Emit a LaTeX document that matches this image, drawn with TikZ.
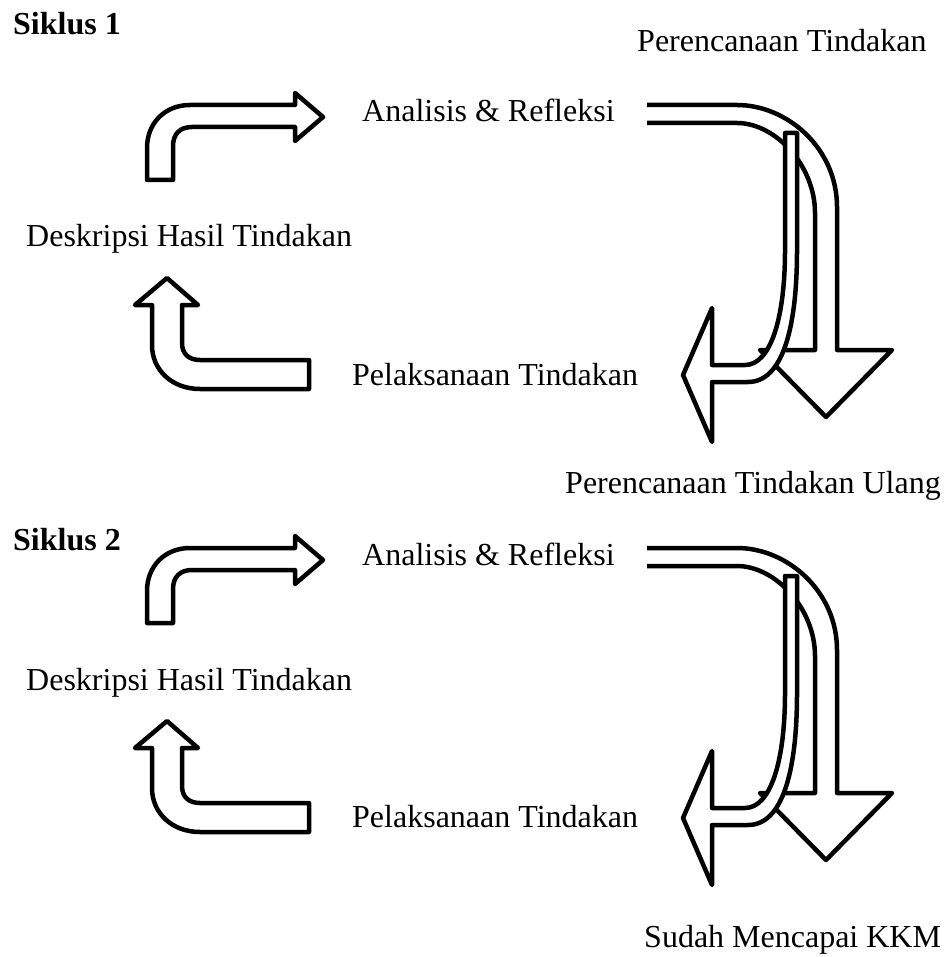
\documentclass[tikz,border=0pt]{standalone}
\usepackage{fontspec}
\setmainfont{Liberation Serif}
\tikzset{
  shp/.style={draw=black, fill=white, line width=4.5pt, line join=round},
  ln/.style={draw=black, line width=4.5pt, line join=round},
  lbl/.style={anchor=base west, inner sep=0pt, font=\fontsize{32}{38}\selectfont},
  blbl/.style={anchor=base west, inner sep=0pt, font=\fontsize{32}{38}\selectfont\bfseries}
}
\newcommand\cyclarrows{%
  % bent arrow up then right
  \path[shp] (147,180) -- (147,148) .. controls (147,123) and (165,105) .. (190,105)
    -- (295,105) -- (295,93) -- (323,117) -- (295,141) -- (295,127) -- (192,127)
    .. controls (180,127) and (173,134) .. (173,146) -- (173,180) -- cycle;
  % bent arrow left then up
  \path[shp] (167,278) -- (198,305) -- (182,305) -- (182,343)
    .. controls (182,354) and (189,360) .. (200,360) -- (309,360) -- (309,389)
    -- (200,389) .. controls (172,389) and (152,370) .. (152,345) -- (152,305)
    -- (135,305) -- cycle;
  % hidden edge behind
  \path[ln] (785,200) -- (785,350) -- (815,350);
  % large curved arrow right then down
  \fill[white] (647,105) -- (737,105) .. controls (787,105) and (837,148) .. (837,207)
    -- (837,350) -- (892,350) -- (826,417) -- (760,350) -- (815,350) -- (815,213)
    .. controls (815,165) and (775,123) .. (737,123) -- (647,123) -- cycle;
  \path[ln] (647,105) -- (737,105) .. controls (787,105) and (837,148) .. (837,207)
    -- (837,350) -- (892,350) -- (826,417) -- (760,350) -- (815,350) -- (815,213)
    .. controls (815,165) and (775,123) .. (737,123) -- (647,123);
  % curved arrow down then left
  \path[shp] (785,133) -- (785,250) .. controls (785,320) and (770,365) .. (745,365)
    -- (712,365) -- (712,308) -- (683,375) -- (712,442) -- (712,382) -- (748,382)
    .. controls (782,382) and (797,330) .. (797,250) -- (797,133) -- cycle;
}
\begin{document}
\begin{tikzpicture}[x=1pt,y=-1pt]
\useasboundingbox (0,0) rectangle (946,957);
\fill[white] (0,0) rectangle (946,957);
\cyclarrows
\begin{scope}[yshift=-443pt]
\cyclarrows
\end{scope}
\node[blbl] (s1) at (13,35) {Siklus 1};
\node[lbl] (pt1) at (637,52) {Perencanaan Tindakan};
\node[lbl] (ar1) at (362,122) {Analisis \& Refleksi};
\node[lbl] (dh1) at (26,247) {Deskripsi Hasil Tindakan};
\node[lbl] (pl1) at (352,385) {Pelaksanaan Tindakan};
\node[lbl] (ptu) at (565,493) {Perencanaan Tindakan Ulang};
\node[blbl] (s2) at (13,550) {Siklus 2};
\node[lbl] (ar2) at (362,565) {Analisis \& Refleksi};
\node[lbl] (dh2) at (26,690) {Deskripsi Hasil Tindakan};
\node[lbl] (pl2) at (352,827) {Pelaksanaan Tindakan};
\node[lbl] (kkm) at (644,947) {Sudah Mencapai KKM};
\end{tikzpicture}
\end{document}
